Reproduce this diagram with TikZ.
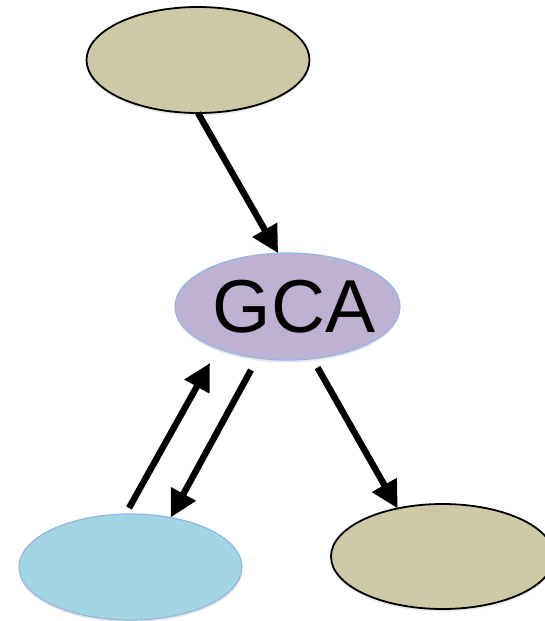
\documentclass[tikz,border=0pt]{standalone}
\usepackage{fontspec}
\setmainfont{Liberation Sans}
\usetikzlibrary{shapes.geometric,arrows.meta,shadows}
\definecolor{tanfill}{HTML}{CDC8A6}
\definecolor{gcafill}{HTML}{BFB1D1}
\definecolor{bluefill}{HTML}{A3D4E3}
\definecolor{softblue}{HTML}{93B8E2}
\tikzset{
  oval/.style={ellipse, inner sep=0pt, outer sep=0pt, minimum width=223pt, minimum height=106pt,
    drop shadow={opacity=0.18, shadow xshift=0pt, shadow yshift=-2.5pt}},
  tanoval/.style={oval, fill=tanfill, draw=black, line width=1.8pt},
  softoval/.style={oval, draw=softblue, line width=1.2pt},
  arr/.style={line width=6.4pt, -{Triangle[length=27pt,width=27pt]}},
}
\begin{document}
\begin{tikzpicture}[x=1pt,y=-1pt]
\useasboundingbox (0,0) rectangle (544,621);
\fill[white] (0,0) rectangle (544,621);
\node[tanoval] (top) at (198,60) {};
\node[softoval, fill=gcafill, minimum width=225pt, minimum height=107pt] (gca) at (287.5,306.5) {};
\node[inner sep=0pt, font=\fontsize{75}{80}\selectfont] (gcat) at (294,306.5) {GCA};
\node[softoval, fill=bluefill] (bl) at (130.5,567) {};
\node[tanoval, minimum height=105pt] (br) at (442.5,556.5) {};
\coordinate (p2s) at (129,508);
\coordinate (p2e) at (210,363);
\coordinate (p3s) at (251,370);
\coordinate (p4s) at (317.5,367.5);
\draw[arr] (top.south) -- (gca.100);
\draw[arr] (p2s) -- (p2e);
\draw[arr] (p3s) -- (bl.51.5);
\draw[arr] (p4s) -- (br.133.5);
\end{tikzpicture}
\end{document}
